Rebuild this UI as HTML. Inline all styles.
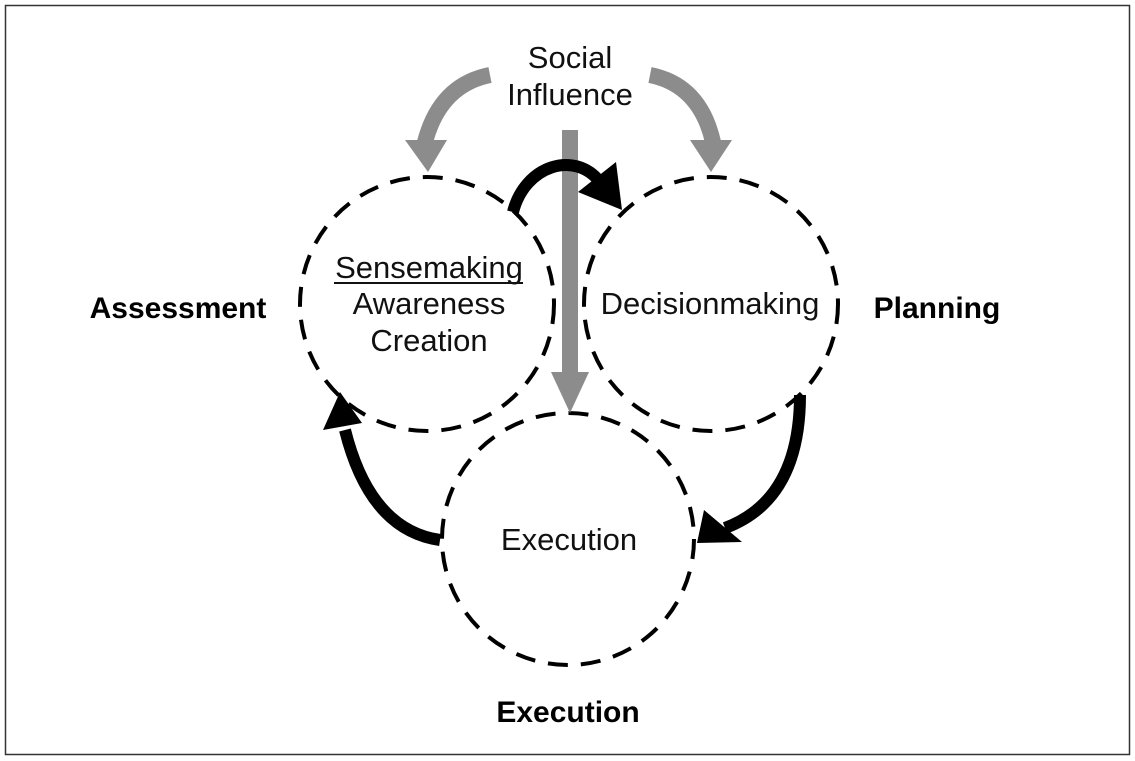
<!DOCTYPE html>
<html><head><meta charset="utf-8"><style>
html,body{margin:0;padding:0;background:#fff;}
svg{display:block;}
text{font-family:"Liberation Sans",sans-serif;}
</style></head><body>
<svg width="1135" height="761" viewBox="0 0 1135 761" xmlns="http://www.w3.org/2000/svg">
<rect x="5.5" y="5.5" width="1124" height="749" fill="#fff" stroke="#333" stroke-width="1.5"/>
<g fill="none" stroke="#000" stroke-width="4" stroke-dasharray="20,13">
<circle cx="427" cy="304" r="127"/>
<circle cx="711" cy="304" r="127"/>
<circle cx="568" cy="539" r="126"/>
</g>
<g fill="none" stroke="#8c8c8c" stroke-width="16">
<path d="M490,75 Q440,85 425,142"/>
<path d="M650,75 Q700,85 713,142"/>
<path d="M570,130 L570,375"/>
</g>
<g fill="#8c8c8c">
<polygon points="405,140 447,140 428,172"/>
<polygon points="690,140 732,140 711,172"/>
<polygon points="551,372 589,372 570,413"/>
</g>
<g fill="none" stroke="#000" stroke-width="12">
<path d="M513,212 C525,165 575,150 600,182"/>
<path d="M440,540 Q370,530 345,430"/>
<path d="M800,395 Q800,500 725,528"/>
</g>
<g fill="#000">
<polygon points="622,210 616,162 578,192"/>
<polygon points="323,430 362,423 340,392"/>
<polygon points="704,510 742,542 697,543"/>
</g>
<g font-size="31" fill="#111" text-anchor="middle">
<text x="570" y="68">Social</text>
<text x="570" y="105">Influence</text>
<text x="429" y="278">Sensemaking</text>
<text x="429" y="314">Awareness</text>
<text x="429" y="351">Creation</text>
<text x="710" y="314">Decisionmaking</text>
<text x="569" y="550">Execution</text>
</g>
<line x1="334" y1="283" x2="523" y2="283" stroke="#111" stroke-width="2"/>
<g font-size="30" font-weight="bold" fill="#000" text-anchor="middle">
<text x="178" y="318">Assessment</text>
<text x="937" y="318">Planning</text>
<text x="568" y="722">Execution</text>
</g>
</svg>
</body></html>
